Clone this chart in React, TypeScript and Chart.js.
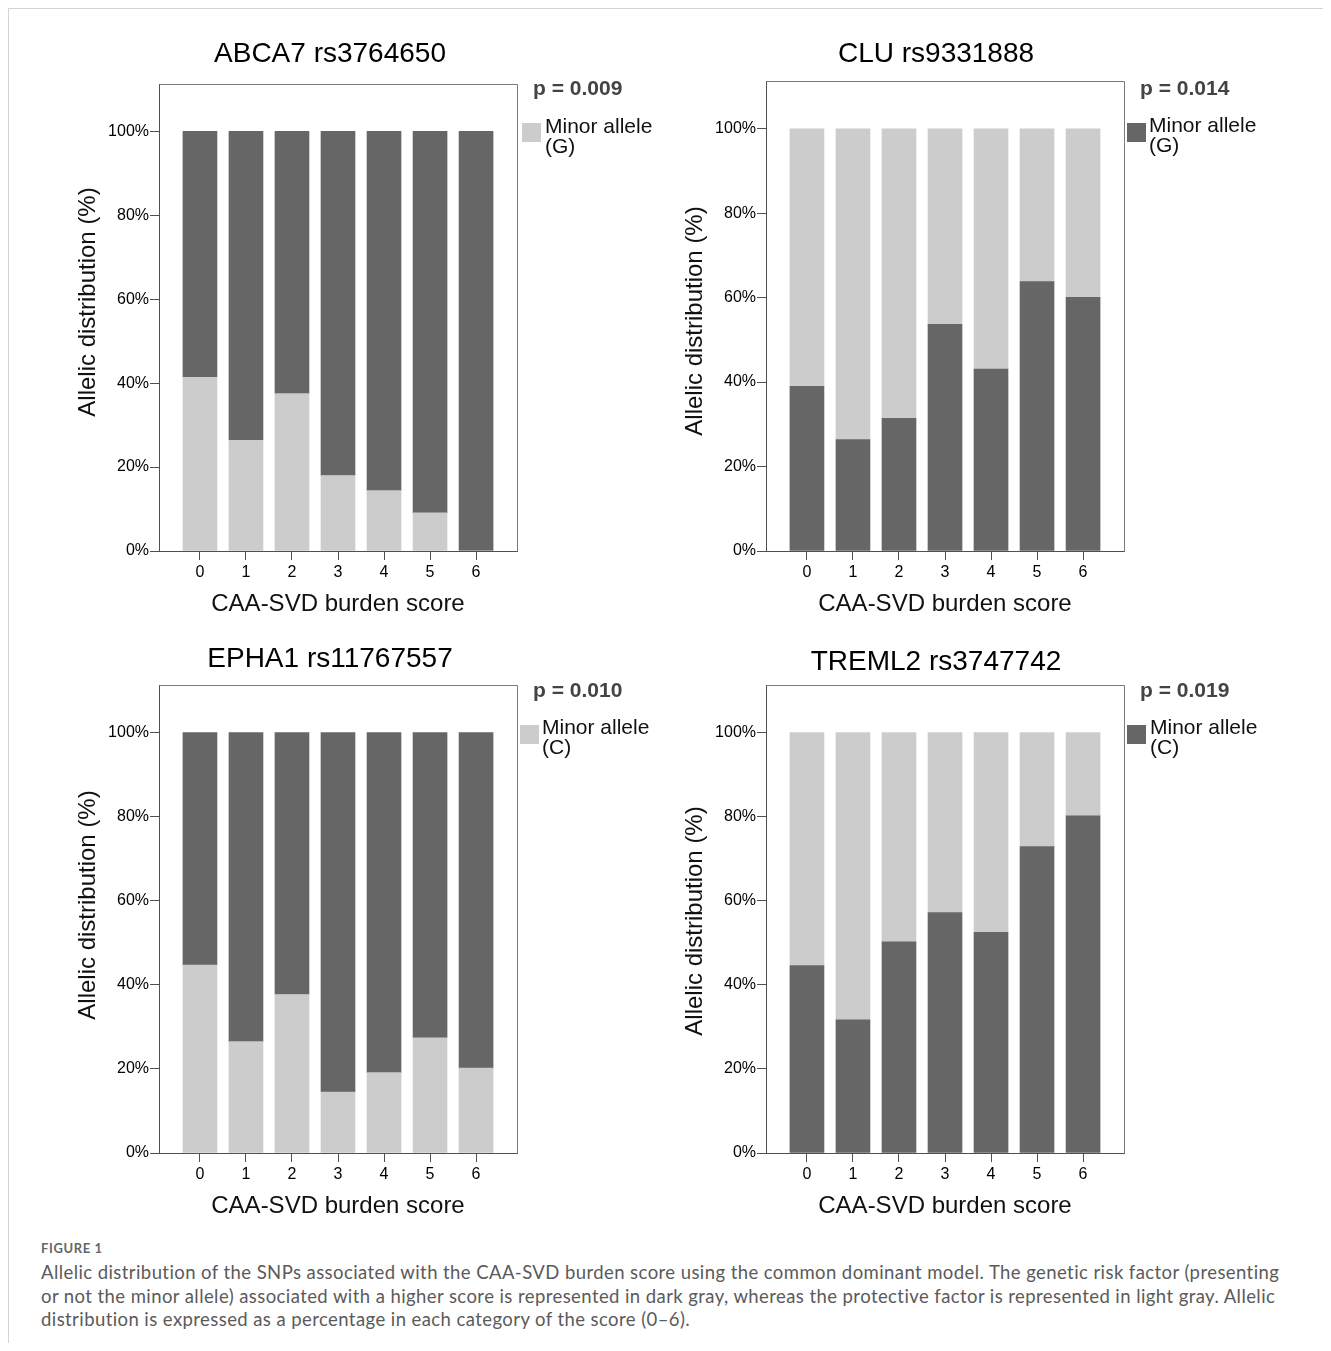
import React, { useEffect, useRef } from "react";
import { Chart, registerables } from "chart.js";

Chart.register(...registerables);

// ---------- data ----------
const scoreCategories = ["0", "1", "2", "3", "4", "5", "6"];
const yTickValues = [0, 20, 40, 60, 80, 100];

const abca7Minor = [41.4, 26.4, 37.5, 18.0, 14.4, 9.1, 0];
const abca7Other = [58.6, 73.6, 62.5, 82.0, 85.6, 90.9, 100];

const cluMinor = [39.0, 26.4, 31.4, 53.7, 43.1, 63.8, 60.1];
const cluOther = [61.0, 73.6, 68.6, 46.3, 56.9, 36.2, 39.9];

const epha1Minor = [44.7, 26.5, 37.7, 14.5, 19.1, 27.4, 20.2];
const epha1Other = [55.3, 73.5, 62.3, 85.5, 80.9, 72.6, 79.8];

const treml2Minor = [44.6, 31.7, 50.2, 57.2, 52.5, 72.9, 80.2];
const treml2Other = [55.4, 68.3, 49.8, 42.8, 47.5, 27.1, 19.8];

const panelTitles = ["ABCA7 rs3764650", "CLU rs9331888", "EPHA1 rs11767557", "TREML2 rs3747742"];
const pValues = ["p = 0.009", "p = 0.014", "p = 0.010", "p = 0.019"];
const legendLine1 = "Minor allele";
const minorAlleleLabels = ["(G)", "(G)", "(C)", "(C)"];
const yAxisTitle = "Allelic distribution (%)";
const xAxisTitle = "CAA-SVD burden score";

const minorSeries = [abca7Minor, cluMinor, epha1Minor, treml2Minor];
const otherSeries = [abca7Other, cluOther, epha1Other, treml2Other];

// ---------- styles / layout ----------
const DARK = "#666666";
const LIGHT = "#cccccc";
const AXIS = "#505050";
const FRAME = "#7a7a7a";
const FONT = "'Liberation Sans', Arial, Helvetica, sans-serif";

type PanelLayout = {
  area: { l: number; t: number; r: number; b: number };
  titleX: number;
  titleBase: number;
  yTitleX: number;
  yTitleY: number;
  pBase: number;
  swatchX: number;
  swatchY: number;
  legendX: number;
  legendBase: number;
  minorDark: boolean;
};

const layouts: PanelLayout[] = [
  { area: { l: 159, t: 84, r: 517, b: 551 }, titleX: 330, titleBase: 62, yTitleX: 88, yTitleY: 302, pBase: 95, swatchX: 522, swatchY: 123, legendX: 545, legendBase: 133, minorDark: false },
  { area: { l: 766, t: 81, r: 1124, b: 551 }, titleX: 936, titleBase: 62, yTitleX: 695, yTitleY: 321, pBase: 95, swatchX: 1127, swatchY: 123, legendX: 1149, legendBase: 132, minorDark: true },
  { area: { l: 159, t: 685, r: 517, b: 1153 }, titleX: 330, titleBase: 667, yTitleX: 88, yTitleY: 905, pBase: 697, swatchX: 520, swatchY: 725, legendX: 542, legendBase: 734, minorDark: false },
  { area: { l: 766, t: 685, r: 1124, b: 1153 }, titleX: 936, titleBase: 670, yTitleX: 695, yTitleY: 921, pBase: 697, swatchX: 1127, swatchY: 725, legendX: 1150, legendBase: 734, minorDark: true },
];

const Y_AXIS_W = 139;
const X_AXIS_H = 70;
const PAD_TOP = 74;
const PAD_RIGHT = 150;
const PAD_BOTTOM = 10;
const CONTAINER_OFFSET = 9;

function Panel({ index }: { index: number }) {
  const ref = useRef<HTMLCanvasElement | null>(null);
  const lay = layouts[index];
  const { l, t, r, b } = lay.area;
  const PL = l - Y_AXIS_W;
  const PT = t - PAD_TOP;
  const W = Y_AXIS_W + (r - l) + PAD_RIGHT;
  const H = PAD_TOP + (b - t) + X_AXIS_H + PAD_BOTTOM;

  useEffect(() => {
    if (!ref.current) return;
    const minorColor = lay.minorDark ? DARK : LIGHT;
    const otherColor = lay.minorDark ? LIGHT : DARK;

    const decor = {
      id: "decor" + index,
      afterDraw(chart: any) {
        const ctx = chart.ctx as CanvasRenderingContext2D;
        const ca = chart.chartArea;
        ctx.save();
        // top & right frame
        ctx.strokeStyle = FRAME;
        ctx.lineWidth = 1;
        ctx.beginPath();
        ctx.moveTo(Math.round(ca.left) + 0.5, Math.round(ca.top) + 0.5);
        ctx.lineTo(Math.round(ca.right) + 0.5, Math.round(ca.top) + 0.5);
        ctx.lineTo(Math.round(ca.right) + 0.5, Math.round(ca.bottom) + 0.5);
        ctx.stroke();

        // title
        ctx.fillStyle = "#000";
        ctx.font = `28px ${FONT}`;
        ctx.textAlign = "center";
        ctx.textBaseline = "alphabetic";
        ctx.fillText(panelTitles[index], lay.titleX - PL, lay.titleBase - PT);

        // p value
        ctx.fillStyle = "#444";
        ctx.font = `bold 21px ${FONT}`;
        ctx.textAlign = "left";
        ctx.fillText(pValues[index], ca.right + 16, lay.pBase - PT);

        // legend
        ctx.fillStyle = minorColor;
        ctx.fillRect(lay.swatchX - PL, lay.swatchY - PT, 19, 19);
        ctx.fillStyle = "#111";
        ctx.font = `21px ${FONT}`;
        ctx.fillText(legendLine1, lay.legendX - PL, lay.legendBase - PT);
        ctx.fillText(minorAlleleLabels[index], lay.legendX - PL, lay.legendBase + 20 - PT);

        // y axis title
        ctx.translate(lay.yTitleX - PL, lay.yTitleY - PT);
        ctx.rotate(-Math.PI / 2);
        ctx.fillStyle = "#111";
        ctx.font = `24px ${FONT}`;
        ctx.textAlign = "center";
        ctx.textBaseline = "middle";
        ctx.fillText(yAxisTitle, 0, 0);
        ctx.restore();
      },
    };

    const chart = new Chart(ref.current, {
      type: "bar",
      data: {
        datasets: [
          {
            label: legendLine1 + " " + minorAlleleLabels[index],
            data: minorSeries[index].map((v, i) => ({ x: i, y: v })),
            backgroundColor: minorColor,
            barThickness: 34,
            grouped: false,
          } as any,
          {
            label: "Other allele",
            data: otherSeries[index].map((v, i) => ({ x: i, y: v })),
            backgroundColor: otherColor,
            barThickness: 34,
            grouped: false,
          } as any,
        ],
      },
      options: {
        animation: false,
        responsive: false,
        maintainAspectRatio: false,
        devicePixelRatio: 1,
        layout: { padding: { left: 0, top: PAD_TOP, right: PAD_RIGHT, bottom: PAD_BOTTOM } },
        plugins: {
          legend: { display: false },
          tooltip: { enabled: false },
          title: { display: false },
        },
        scales: {
          x: {
            type: "linear",
            offset: false,
            min: -0.89,
            max: 6.89,
            afterBuildTicks: (s: any) => {
              s.ticks = scoreCategories.map((_, i) => ({ value: i }));
            },
            afterFit: (s: any) => {
              s.height = X_AXIS_H;
            },
            ticks: {
              autoSkip: false,
              maxRotation: 0,
              padding: 3,
              color: "#000",
              font: { size: 16, family: FONT },
              callback: (v: any) => scoreCategories[Number(v)] ?? "",
            },
            grid: { offset: false, drawOnChartArea: false, drawTicks: true, tickLength: 9, color: AXIS },
            border: { display: true, color: AXIS, width: 1 },
            title: {
              display: true,
              text: xAxisTitle,
              color: "#111",
              font: { size: 24, family: FONT },
              padding: { top: 0, bottom: 2.6 },
            },
          },
          y: {
            stacked: true,
            min: 0,
            max: 111.3,
            afterBuildTicks: (s: any) => {
              s.ticks = yTickValues.map((v) => ({ value: v }));
            },
            afterFit: (s: any) => {
              s.width = Y_AXIS_W;
            },
            ticks: {
              padding: 1,
              color: "#000",
              font: { size: 16, family: FONT },
              callback: (v: any) => v + "%",
            },
            grid: { drawOnChartArea: false, drawTicks: true, tickLength: 9, color: AXIS },
            border: { display: true, color: AXIS, width: 1 },
          },
        },
      },
      plugins: [decor],
    } as any);

    return () => chart.destroy();
  }, [index]);

  return (
    <canvas
      ref={ref}
      width={W}
      height={H}
      style={{
        position: "absolute",
        left: PL - CONTAINER_OFFSET,
        top: PT - CONTAINER_OFFSET,
        width: W,
        height: H,
      }}
    />
  );
}

export default function App() {
  return (
    <div
      style={{
        position: "relative",
        width: 1315,
        height: 1334,
        borderTop: "1px solid #d4d4d4",
        borderLeft: "1px solid #d4d4d4",
        background: "#fff",
      }}
    >
      {[0, 1, 2, 3].map((i) => (
        <Panel key={i} index={i} />
      ))}
      <div
        style={{
          position: "absolute",
          left: 32,
          top: 1231,
          fontFamily: "Lato, 'Open Sans', sans-serif",
          fontSize: 13,
          lineHeight: "16px",
          fontWeight: 700,
          color: "#666",
          letterSpacing: 0.6,
          whiteSpace: "nowrap",
        }}
      >
        FIGURE 1
      </div>
      <div
        style={{
          position: "absolute",
          left: 32,
          top: 1252,
          fontFamily: "Lato, 'Open Sans', sans-serif",
          fontSize: 18.5,
          lineHeight: "23.5px",
          letterSpacing: 0.42,
          color: "#5a5a5a",
          whiteSpace: "nowrap",
        }}
      >
        Allelic distribution of the SNPs associated with the CAA-SVD burden score using the common dominant model. The genetic risk factor (presenting
        <br />
        or not the minor allele) associated with a higher score is represented in dark gray, whereas the protective factor is represented in light gray. Allelic
        <br />
        distribution is expressed as a percentage in each category of the score (0–6).
      </div>
    </div>
  );
}
